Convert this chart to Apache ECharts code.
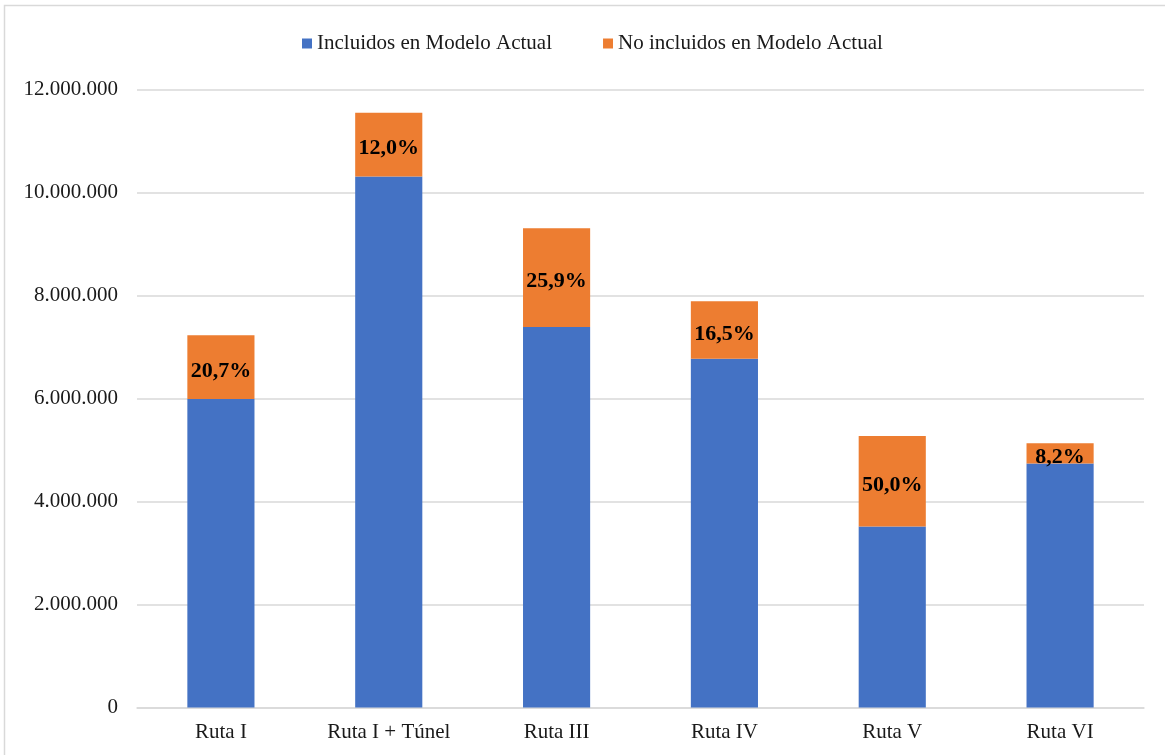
<!DOCTYPE html>
<html>
<head>
<meta charset="utf-8">
<title>Rutas</title>
<script src="https://cdn.jsdelivr.net/npm/echarts@6/dist/echarts.min.js"></script>
<style>
  html, body { margin: 0; padding: 0; background: #fff; }
  #chart { width: 1165px; height: 755px; }
</style>
</head>
<body>
<div id="chart"></div>
<script>
// Routes on the x axis
const categories = ['Ruta I', 'Ruta I + Túnel', 'Ruta III', 'Ruta IV', 'Ruta V', 'Ruta VI'];
// Trips already covered by the current model
const incluidos = [5990000, 10310000, 7390000, 6770000, 3516000, 4740000];
// Trips outside the current model (stacked on top)
const noIncluidos = [1240000, 1240000, 1915000, 1118000, 1758000, 389000];
// Y axis ticks
const yMin = 0, yMax = 12000000, yStep = 2000000;

const font = 'Liberation Serif, Times New Roman, serif';
const textColor = '#1a1a1a';

function fmtThousands(v) {
  return String(Math.round(v)).replace(/\B(?=(\d{3})+(?!\d))/g, '.');
}
function fmtPct(i) {
  return (noIncluidos[i] / incluidos[i] * 100).toFixed(1).replace('.', ',') + '%';
}

const chart = echarts.init(document.getElementById('chart'), null, { renderer: 'canvas' });
chart.setOption({
  animation: false,
  backgroundColor: '#fff',
  graphic: [{
    type: 'rect',
    shape: { x: 4.5, y: 5.5, width: 1200, height: 800 },
    style: { fill: 'none', stroke: '#d9d9d9', lineWidth: 1.5 },
    silent: true
  }],
  legend: {
    top: 28,
    left: 297,
    itemWidth: 10,
    itemHeight: 10,
    itemGap: 51,
    icon: 'rect',
    textStyle: { fontFamily: font, fontSize: 21, color: textColor },
    data: ['Incluidos en Modelo Actual', 'No incluidos en Modelo Actual']
  },
  grid: { left: 137, right: 21, top: 89.5, bottom: 47.5, containLabel: false },
  xAxis: {
    type: 'category',
    data: categories,
    axisLine: { lineStyle: { color: '#d9d9d9', width: 1.5 } },
    axisTick: { show: false },
    axisLabel: { fontFamily: font, fontSize: 21, color: textColor, margin: 14 }
  },
  yAxis: {
    type: 'value',
    min: yMin,
    max: yMax,
    interval: yStep,
    axisLine: { show: false },
    axisTick: { show: false },
    splitLine: { lineStyle: { color: '#d9d9d9', width: 1.5 } },
    axisLabel: {
      fontFamily: font, fontSize: 21, color: textColor, margin: 19,
      formatter: fmtThousands
    }
  },
  series: [
    {
      name: 'Incluidos en Modelo Actual',
      type: 'bar',
      stack: 'total',
      data: incluidos,
      barWidth: '40%',
      itemStyle: { color: '#4472c4' }
    },
    {
      name: 'No incluidos en Modelo Actual',
      type: 'bar',
      stack: 'total',
      data: noIncluidos,
      barWidth: '40%',
      itemStyle: { color: '#ed7d31' },
      label: {
        show: true,
        position: 'inside',
        offset: [0, 4],
        fontFamily: font,
        fontWeight: 'bold',
        fontSize: 22,
        color: '#000',
        formatter: p => fmtPct(p.dataIndex)
      }
    }
  ]
});
</script>
</body>
</html>
